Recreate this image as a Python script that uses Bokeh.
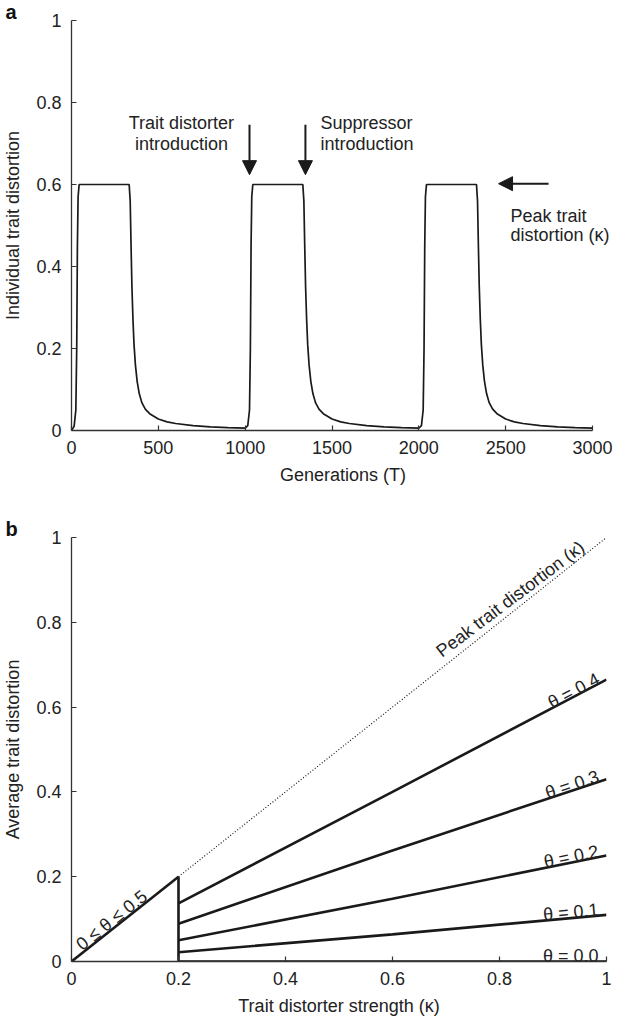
import math
from bokeh.plotting import figure
from bokeh.layouts import column
from bokeh.models import FixedTicker, Label, Arrow, NormalHead, Range1d, NumeralTickFormatter, Title
from bokeh.embed import file_html
from bokeh.resources import INLINE

# ---------------- panel a data ----------------
generations = [0, 15, 25, 30, 34, 38, 44, 332, 338, 343, 348, 354, 360, 368, 378, 390, 405, 425, 450, 500,
               550, 600, 700, 800, 900, 1000,
               1015, 1025, 1030, 1034, 1038, 1044, 1332, 1338, 1343, 1348, 1354, 1360, 1368, 1378, 1390, 1405,
               1425, 1450, 1500, 1550, 1600, 1700, 1800, 1900, 2000,
               2015, 2025, 2030, 2034, 2038, 2044, 2332, 2338, 2343, 2348, 2354, 2360, 2368, 2378, 2390, 2405,
               2425, 2450, 2500, 2550, 2600, 2700, 2800, 2900, 3000]
trait_distortion = [0.0, 0.01, 0.05, 0.2, 0.45, 0.57, 0.6, 0.6, 0.56, 0.45, 0.35, 0.27, 0.21, 0.16, 0.12, 0.09,
                    0.068, 0.052, 0.041, 0.028, 0.021, 0.017, 0.012, 0.009, 0.007, 0.006,
                    0.012, 0.05, 0.2, 0.45, 0.57, 0.6, 0.6, 0.56, 0.45, 0.35, 0.27, 0.21, 0.16, 0.12, 0.09, 0.068,
                    0.052, 0.041, 0.028, 0.021, 0.017, 0.012, 0.009, 0.007, 0.006,
                    0.012, 0.05, 0.2, 0.45, 0.57, 0.6, 0.6, 0.56, 0.45, 0.35, 0.27, 0.21, 0.16, 0.12, 0.09, 0.068,
                    0.052, 0.041, 0.028, 0.021, 0.017, 0.012, 0.009, 0.007, 0.006]
gen_ticks = [0, 500, 1000, 1500, 2000, 2500, 3000]
gen_max = 3000
dist_ticks = [0, 0.2, 0.4, 0.6, 0.8, 1.0]

# annotations of panel a
intro_arrow_T = [1025, 1347]
intro_arrow_y = [0.746, 0.624]
peak_arrow_T = [2747, 2459]
peak_arrow_y = 0.602
label_distorter = ["Trait distorter", "introduction"]
label_suppressor = ["Suppressor", "introduction"]
label_peak = ["Peak trait", "distortion (\u03ba)"]
label_rows_y = [0.751, 0.698]
label_peak_rows_y = [0.524, 0.476]
label_distorter_T = 633
label_suppressor_T = 1434
label_peak_T = 2528

# ---------------- panel b data ----------------
kappa_ticks = [0, 0.2, 0.4, 0.6, 0.8, 1.0]
kappa_low = [0.0, 0.2]
avg_low = [0.0, 0.2]
kappa_cut = [0.2, 0.2]
avg_cut = [0.0, 0.2]
kappa_peak = [0.2, 1.0]
peak_line = [0.2, 1.0]
kappa_pts = [0.2, 0.6, 1.0]
theta_labels = ["\u03b8 = 0.0", "\u03b8 = 0.1", "\u03b8 = 0.2", "\u03b8 = 0.3", "\u03b8 = 0.4"]
avg_theta0 = [0.0, 0.0, 0.0]
avg_theta1 = [0.022, 0.064, 0.11]
avg_theta2 = [0.05, 0.148, 0.25]
avg_theta3 = [0.089, 0.262, 0.43]
avg_theta4 = [0.137, 0.40, 0.665]
theta_series = [avg_theta0, avg_theta1, avg_theta2, avg_theta3, avg_theta4]

FONT = "Liberation Sans"
INK = "#1a1a1a"
AX = "#333333"
TXT = "#222222"


def style_axes(p):
    p.outline_line_color = None
    p.xgrid.visible = False
    p.ygrid.visible = False
    p.background_fill_color = None
    for ax in (p.xaxis[0], p.yaxis[0]):
        ax.axis_line_color = AX
        ax.axis_line_width = 1.3
        ax.major_tick_line_color = AX
        ax.major_tick_line_width = 1.2
        ax.major_tick_in = 5
        ax.major_tick_out = 0
        ax.minor_tick_line_color = None
        ax.major_label_text_font = FONT
        ax.major_label_text_font_size = "18px"
        ax.major_label_text_color = TXT
        ax.major_label_standoff = 10
        ax.axis_label_text_font = FONT
        ax.axis_label_text_font_size = "18px"
        ax.axis_label_text_font_style = "normal"
        ax.axis_label_text_color = TXT
    p.yaxis[0].axis_label_standoff = 10
    p.xaxis[0].axis_label_standoff = 8


def panel_title(letter):
    return Title(text=letter, align="left", offset=-66, standoff=-4.3, text_font=FONT,
                 text_font_size="20px", text_font_style="bold", text_color="#111111")


# ---------------- figure a ----------------
FW1, FH1 = 543, 410
AXIS_W1 = 521
p1 = figure(frame_width=FW1, frame_height=FH1,
            x_range=Range1d(0, gen_max * FW1 / AXIS_W1), y_range=Range1d(0, 1),
            min_border_left=70, min_border_right=0, min_border_top=20, min_border_bottom=80,
            output_backend="svg", toolbar_location=None, title=panel_title("a"))
style_axes(p1)
p1.xaxis[0].bounds = (0, gen_max)
p1.xaxis[0].ticker = FixedTicker(ticks=gen_ticks)
p1.yaxis[0].ticker = FixedTicker(ticks=dist_ticks)
p1.yaxis[0].formatter = NumeralTickFormatter(format="0.[0]")
p1.xaxis[0].axis_label = "Generations (T)"
p1.yaxis[0].axis_label = "Individual trait distortion"

p1.line(generations, trait_distortion, line_color=INK, line_width=1.7)

for t in intro_arrow_T:
    p1.add_layout(Arrow(x_start=t, y_start=intro_arrow_y[0], x_end=t, y_end=intro_arrow_y[1],
                        line_color=INK, line_width=2,
                        end=NormalHead(size=14, fill_color=INK, line_color=INK)))
p1.add_layout(Arrow(x_start=peak_arrow_T[0], y_start=peak_arrow_y, x_end=peak_arrow_T[1], y_end=peak_arrow_y,
                    line_color=INK, line_width=2,
                    end=NormalHead(size=14, fill_color=INK, line_color=INK)))

for txt, yy in zip(label_distorter, label_rows_y):
    p1.add_layout(Label(x=label_distorter_T, y=yy, text=txt, text_align="center", text_baseline="alphabetic",
                        text_font=FONT, text_font_size="18px", text_color=TXT))
for txt, yy in zip(label_suppressor, label_rows_y):
    p1.add_layout(Label(x=label_suppressor_T, y=yy, text=txt, text_align="left", text_baseline="alphabetic",
                        text_font=FONT, text_font_size="18px", text_color=TXT))
for txt, yy in zip(label_peak, label_peak_rows_y):
    p1.add_layout(Label(x=label_peak_T, y=yy, text=txt, text_align="left", text_baseline="alphabetic",
                        text_font=FONT, text_font_size="18px", text_color=TXT))

# ---------------- figure b ----------------
FW2, FH2 = 535, 424
p2 = figure(frame_width=FW2, frame_height=FH2, x_range=Range1d(0, 1), y_range=Range1d(0, 1),
            min_border_left=70, min_border_right=8, min_border_top=27, min_border_bottom=44,
            output_backend="svg", toolbar_location=None, title=panel_title("b"))
style_axes(p2)
p2.xaxis[0].ticker = FixedTicker(ticks=kappa_ticks)
p2.yaxis[0].ticker = FixedTicker(ticks=dist_ticks)
p2.xaxis[0].formatter = NumeralTickFormatter(format="0.[0]")
p2.yaxis[0].formatter = NumeralTickFormatter(format="0.[0]")
p2.xaxis[0].axis_label = "Trait distorter strength (\u03ba)"
p2.yaxis[0].axis_label = "Average trait distortion"

p2.line(kappa_peak, peak_line, line_color=INK, line_width=1.2, line_dash="1 2")
p2.line(kappa_low, avg_low, line_color=INK, line_width=2.6)
p2.line(kappa_cut, avg_cut, line_color=INK, line_width=2.6)
for ser in theta_series:
    p2.line(kappa_pts, ser, line_color=INK, line_width=2.6)


def angle_of(x0, y0, x1, y1):
    return math.atan2((y1 - y0) * FH2, (x1 - x0) * FW2)


for lab, ser in zip(theta_labels, theta_series):
    ang = angle_of(kappa_pts[1], ser[1], kappa_pts[2], ser[2])
    xa = 0.985
    ya = ser[1] + (ser[2] - ser[1]) * (xa - kappa_pts[1]) / (kappa_pts[2] - kappa_pts[1]) + 0.014
    p2.add_layout(Label(x=xa, y=ya, text=lab, angle=ang, text_align="right", text_baseline="alphabetic",
                        text_font=FONT, text_font_size="18px", text_color=TXT))

p2.add_layout(Label(x=0.013, y=0.035, text="0 \u2264 \u03b8 \u2264 0.5", angle=angle_of(0, 0, 0.2, 0.2),
                    text_align="left", text_baseline="alphabetic",
                    text_font=FONT, text_font_size="18px", text_color=TXT))
p2.add_layout(Label(x=0.686, y=0.727, text="Peak trait distortion (\u03ba)", angle=math.radians(37),
                    text_align="left", text_baseline="alphabetic",
                    text_font=FONT, text_font_size="18px", text_color=TXT))

layout = column(p1, p2, spacing=0)
open("out.html", "w").write(file_html(layout, INLINE))
